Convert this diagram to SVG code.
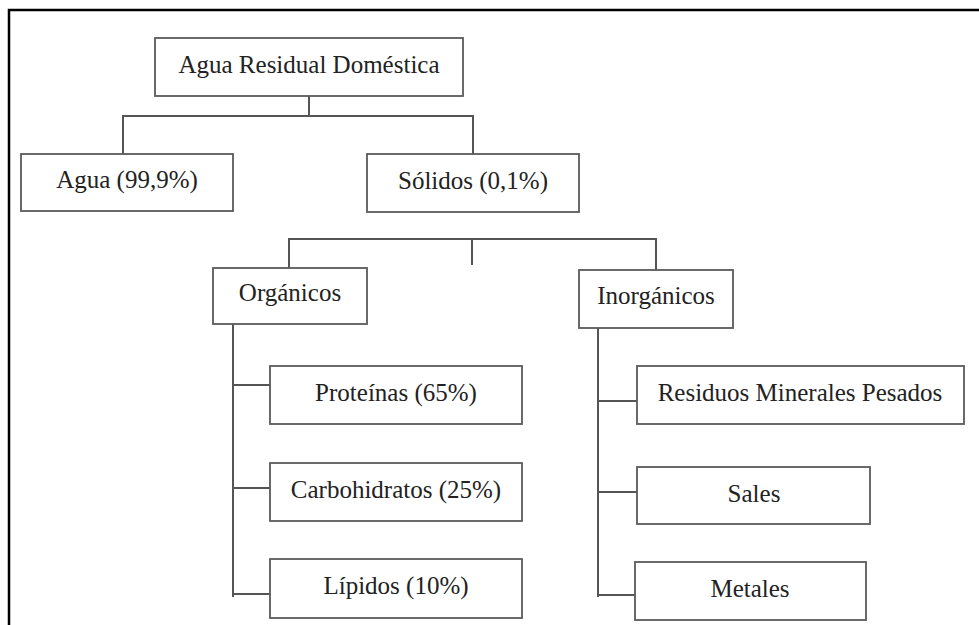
<svg xmlns="http://www.w3.org/2000/svg" width="979" height="625" viewBox="0 0 979 625">
<style>
.box{fill:#fff;stroke:#5a5a5a;stroke-width:1.8}
.lbl{font-family:"Liberation Serif","Times New Roman",serif;font-size:25px;fill:#222;text-anchor:middle}
.ln{fill:none;stroke:#555;stroke-width:2}
.frame{fill:none;stroke:#000;stroke-width:2.5}
</style>
<rect width="979" height="625" fill="#fff"/>
<path class="frame" d="M9,625 V10 H979"/>
<g id="connectors">
<path class="ln" d="M309,96 V116 M123,154 V116 H473 V154"/>
<path class="ln" d="M289,268 V239 H656 V270 M472,239 V265"/>
<path class="ln" d="M233,324 V597 M233,385 H270 M233,488 H270 M233,594 H270"/>
<path class="ln" d="M598,328 V597 M598,401 H637 M598,492 H637 M598,595 H635"/>
</g>
<g id="root"><rect class="box" x="155" y="38" width="308" height="58"/><text class="lbl" x="309" y="73">Agua Residual Doméstica</text></g>
<g id="agua"><rect class="box" x="21" y="154" width="212" height="57"/><text class="lbl" x="127" y="188">Agua (99,9%)</text></g>
<g id="solidos"><rect class="box" x="367" y="154" width="212" height="58"/><text class="lbl" x="473" y="189">Sólidos (0,1%)</text></g>
<g id="organicos"><rect class="box" x="213" y="268" width="154" height="56"/><text class="lbl" x="290" y="301">Orgánicos</text></g>
<g id="inorganicos"><rect class="box" x="579" y="270" width="154" height="58"/><text class="lbl" x="656" y="304">Inorgánicos</text></g>
<g id="proteinas"><rect class="box" x="270" y="366" width="252" height="58"/><text class="lbl" x="396" y="401">Proteínas (65%)</text></g>
<g id="carbohidratos"><rect class="box" x="270" y="463" width="252" height="58"/><text class="lbl" x="396" y="498">Carbohidratos (25%)</text></g>
<g id="lipidos"><rect class="box" x="270" y="559" width="252" height="59"/><text class="lbl" x="396" y="594">Lípidos (10%)</text></g>
<g id="residuos"><rect class="box" x="637" y="366" width="327" height="58"/><text class="lbl" x="800" y="401">Residuos Minerales Pesados</text></g>
<g id="sales"><rect class="box" x="637" y="467" width="233" height="57"/><text class="lbl" x="754" y="502">Sales</text></g>
<g id="metales"><rect class="box" x="635" y="562" width="231" height="58"/><text class="lbl" x="750" y="597">Metales</text></g>
</svg>
